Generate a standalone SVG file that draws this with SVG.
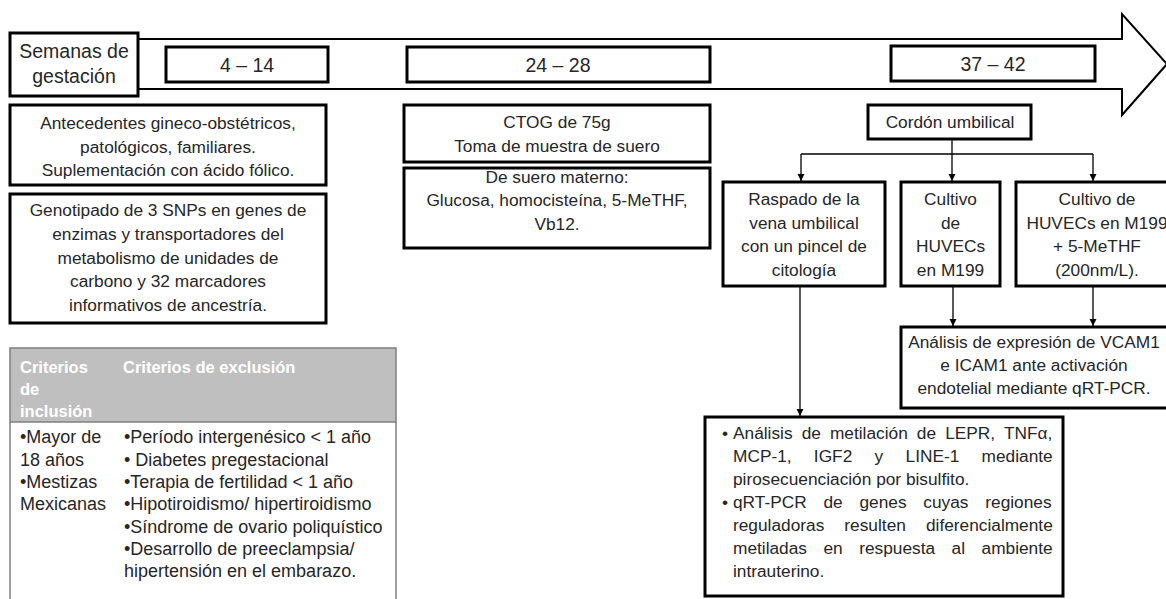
<svg xmlns="http://www.w3.org/2000/svg" width="1166" height="599" viewBox="0 0 1166 599">
<style>
  text { font-family: "Liberation Sans", Arial, sans-serif; fill: #262626; }
  .h { font-size: 19.5px; text-anchor: middle; }
  .b { font-size: 17.3px; text-anchor: middle; }
  .l { font-size: 17.3px; }
  .t { font-size: 18px; }
  .th { font-size: 16.5px; font-weight: bold; fill: #ffffff; }
  .box { fill: #ffffff; stroke: #000000; stroke-width: 3; }
  .conn { fill: none; stroke: #000000; stroke-width: 1.3; }
</style>
<defs>
  <marker id="ah" markerWidth="8" markerHeight="8" refX="4" refY="7" orient="auto" markerUnits="userSpaceOnUse" viewBox="0 0 8 8">
    <path d="M0.5,0 L7.5,0 L4,7 Z" fill="#000000" transform="rotate(-90 4 4)"/>
  </marker>
  <marker id="ad" markerWidth="8" markerHeight="8" refX="4" refY="7.5" markerUnits="userSpaceOnUse" viewBox="0 0 8 8">
    <path d="M0.5,0.5 L7.5,0.5 L4,7.5 Z" fill="#000000"/>
  </marker>
</defs>
<rect width="1166" height="599" fill="#ffffff"/>

<g id="timeline-arrow">
  <polygon points="100,39 1122,39 1122,14 1167,64 1122,115 1122,89 100,89" fill="#ffffff" stroke="#000000" stroke-width="2"/>
</g>

<g id="semanas">
  <rect class="box" x="10" y="33" width="128" height="63"/>
  <text class="h" x="74" y="58">Semanas de</text>
  <text class="h" x="74" y="83">gestación</text>
</g>
<g id="w4-14">
  <rect class="box" x="166" y="47" width="162" height="35"/>
  <text class="h" x="247" y="72">4 – 14</text>
</g>
<g id="w24-28">
  <rect class="box" x="407" y="47" width="303" height="35"/>
  <text class="h" x="558" y="72">24 – 28</text>
</g>
<g id="w37-42">
  <rect class="box" x="891" y="46" width="204" height="35"/>
  <text class="h" x="993" y="71">37 – 42</text>
</g>

<g id="antecedentes">
  <rect class="box" x="10" y="105" width="316" height="80"/>
  <text class="b" x="168" y="129">Antecedentes gineco-obstétricos,</text>
  <text class="b" x="168" y="152.5">patológicos, familiares.</text>
  <text class="b" x="168" y="176">Suplementación con ácido fólico.</text>
</g>
<g id="genotipado">
  <rect class="box" x="10" y="194" width="316" height="129"/>
  <text class="b" x="168" y="216">Genotipado de 3 SNPs en genes de</text>
  <text class="b" x="168" y="240">enzimas y transportadores del</text>
  <text class="b" x="168" y="263.5">metabolismo de unidades de</text>
  <text class="b" x="168" y="287">carbono y 32 marcadores</text>
  <text class="b" x="168" y="311">informativos de ancestría.</text>
</g>

<g id="criterios">
  <rect x="10" y="348" width="386" height="74" fill="#bfbfbf" stroke="#7f7f7f" stroke-width="1.5"/>
  <line x1="10" y1="422" x2="10" y2="600" stroke="#7f7f7f" stroke-width="1.5"/>
  <line x1="396" y1="422" x2="396" y2="600" stroke="#7f7f7f" stroke-width="1.5"/>
  <text class="th" x="20" y="373">Criterios</text>
  <text class="th" x="20" y="395">de</text>
  <text class="th" x="20" y="417">inclusión</text>
  <text class="th" x="123" y="373">Criterios de exclusión</text>
  <text class="t" x="20" y="443">•Mayor de</text>
  <text class="t" x="20" y="465.5">18 años</text>
  <text class="t" x="20" y="488">•Mestizas</text>
  <text class="t" x="20" y="510">Mexicanas</text>
  <text class="t" x="124" y="443">•Período intergenésico &lt; 1 año</text>
  <text class="t" x="124" y="465.5">• Diabetes pregestacional</text>
  <text class="t" x="124" y="488">•Terapia de fertilidad &lt; 1 año</text>
  <text class="t" x="124" y="510">•Hipotiroidismo/ hipertiroidismo</text>
  <text class="t" x="124" y="532.5">•Síndrome de ovario poliquístico</text>
  <text class="t" x="124" y="555">•Desarrollo de preeclampsia/</text>
  <text class="t" x="124" y="577">hipertensión en el embarazo.</text>
</g>

<g id="ctog">
  <rect class="box" x="404" y="105" width="306" height="57"/>
  <text class="b" x="557" y="128">CTOG de 75g</text>
  <text class="b" x="557" y="152">Toma de muestra de suero</text>
</g>
<g id="suero">
  <rect class="box" x="404" y="168" width="306" height="80"/>
  <text class="b" x="557" y="182.5">De suero materno:</text>
  <text class="b" x="557" y="206">Glucosa, homocisteína, 5-MeTHF,</text>
  <text class="b" x="557" y="230">Vb12.</text>
</g>

<g id="connectors">
  <line class="conn" x1="952" y1="139" x2="952" y2="154"/>
  <line class="conn" x1="801" y1="154" x2="1093" y2="154"/>
  <line class="conn" x1="801" y1="154" x2="801" y2="181" marker-end="url(#ad)"/>
  <line class="conn" x1="952" y1="154" x2="952" y2="181" marker-end="url(#ad)"/>
  <line class="conn" x1="1093" y1="154" x2="1093" y2="181" marker-end="url(#ad)"/>
  <line class="conn" x1="953" y1="286" x2="953" y2="326" marker-end="url(#ad)"/>
  <line class="conn" x1="1093" y1="286" x2="1093" y2="326" marker-end="url(#ad)"/>
  <line class="conn" x1="800" y1="286" x2="800" y2="416" marker-end="url(#ad)"/>
</g>

<g id="cordon">
  <rect class="box" x="868" y="105" width="163" height="34"/>
  <text class="b" x="950" y="128">Cordón umbilical</text>
</g>
<g id="raspado">
  <rect class="box" x="723" y="182" width="162" height="104"/>
  <text class="b" x="804" y="205">Raspado de la</text>
  <text class="b" x="804" y="228.5">vena umbilical</text>
  <text class="b" x="804" y="252">con un pincel de</text>
  <text class="b" x="804" y="275.5">citología</text>
</g>
<g id="cultivo">
  <rect class="box" x="901" y="182" width="99" height="104"/>
  <text class="b" x="950.5" y="205">Cultivo</text>
  <text class="b" x="950.5" y="228.5">de</text>
  <text class="b" x="950.5" y="252">HUVECs</text>
  <text class="b" x="950.5" y="275.5">en M199</text>
</g>
<g id="cultivo-methf">
  <rect class="box" x="1016" y="182" width="162" height="104"/>
  <text class="b" x="1097" y="205">Cultivo de</text>
  <text class="b" x="1097" y="228.5">HUVECs en M199</text>
  <text class="b" x="1097" y="252">+ 5-MeTHF</text>
  <text class="b" x="1097" y="275.5">(200nm/L).</text>
</g>
<g id="expresion">
  <rect class="box" x="901" y="327" width="267" height="81"/>
  <text class="b" x="1034" y="348">Análisis de expresión de VCAM1</text>
  <text class="b" x="1034" y="371">e ICAM1 ante activación</text>
  <text class="b" x="1034" y="394">endotelial mediante qRT-PCR.</text>
</g>
<g id="metilacion">
  <rect class="box" x="705" y="417" width="358" height="179"/>
  <text class="l" x="725" y="439" text-anchor="middle">•</text>
  <text class="l" x="725" y="508" text-anchor="middle">•</text>
  <text class="l" x="733" y="439" word-spacing="4.3">Análisis de metilación de LEPR, TNFα,</text>
  <text class="l" x="733" y="462" word-spacing="17.5">MCP-1, IGF2 y LINE-1 mediante</text>
  <text class="l" x="733" y="485">pirosecuenciación por bisulfito.</text>
  <text class="l" x="733" y="508" word-spacing="12">qRT-PCR de genes cuyas regiones</text>
  <text class="l" x="733" y="531" word-spacing="15.3">reguladoras resulten diferencialmente</text>
  <text class="l" x="733" y="554" word-spacing="11.7">metiladas en respuesta al ambiente</text>
  <text class="l" x="733" y="577">intrauterino.</text>
</g>
</svg>
